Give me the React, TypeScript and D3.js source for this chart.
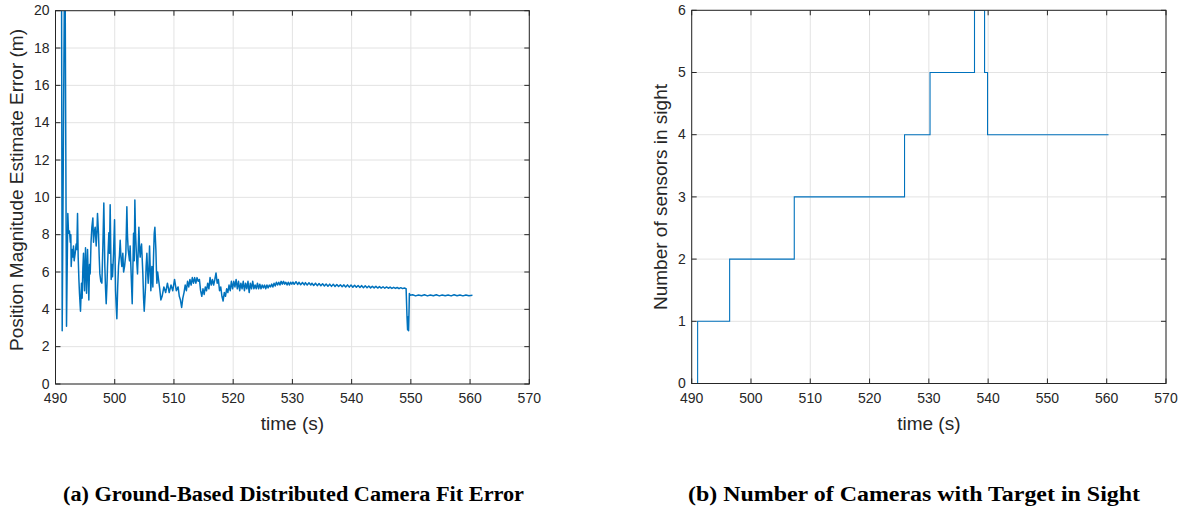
import React, { useRef, useEffect } from 'react';
import * as d3 from 'd3';

// (a) position magnitude estimate error, [time s, error m]
const errSpike: [number, number][] = [
  [491.0, 25], [491.13, 2.85], [491.58, 25], [491.86, 3.1],
];
const errTransient: [number, number][] = [
  [492.08, 9.14], [492.2, 8.07], [492.36, 8.2], [492.5, 7.6], [492.59, 8.0], [492.65, 6.3],
  [492.8, 7.2], [492.93, 6.8], [493.04, 7.4], [493.15, 6.6], [493.32, 7.0], [493.49, 7.5],
  [493.6, 7.2], [493.72, 9.14], [493.83, 6.8], [493.95, 5.6], [494.05, 4.86], [494.22, 3.9],
  [494.39, 5.4], [494.5, 4.6], [494.62, 6.2], [494.73, 7.0], [494.9, 5.0], [495.07, 7.3],
  [495.24, 4.86], [495.41, 7.2], [495.52, 5.8], [495.63, 4.5], [495.75, 6.4], [495.86, 5.9],
  [496.0, 7.6], [496.14, 8.4], [496.31, 8.9], [496.42, 7.6], [496.53, 8.07], [496.7, 8.4],
  [496.87, 7.4], [497.0, 8.2], [497.09, 9.14], [497.26, 8.07], [497.38, 6.8], [497.49, 5.9],
  [497.65, 5.5], [497.83, 5.4], [498.0, 7.4], [498.16, 9.7], [498.33, 6.3], [498.45, 5.1],
  [498.56, 4.3], [498.7, 5.4], [498.78, 6.3], [499.01, 8.1], [499.12, 7.0], [499.23, 9.6],
  [499.4, 5.6], [499.52, 6.4], [499.63, 5.75], [499.8, 7.0], [499.97, 8.8], [500.14, 5.0],
  [500.25, 4.2], [500.36, 3.5], [500.5, 5.2], [500.64, 6.3], [500.8, 6.9], [500.92, 7.7],
  [501.05, 6.8], [501.2, 6.3], [501.37, 7.0], [501.5, 6.0], [501.66, 6.3], [501.88, 7.0],
  [502.05, 9.5], [502.15, 8.0], [502.27, 7.2], [502.5, 6.6], [502.6, 7.4], [502.73, 6.3],
  [502.85, 5.2], [502.95, 4.3], [503.18, 8.07], [503.3, 6.6], [503.4, 9.86], [503.5, 8.2],
  [503.63, 7.2], [503.75, 6.4], [503.85, 5.9], [504.08, 8.4], [504.2, 7.2], [504.3, 6.8],
  [504.42, 7.3], [504.53, 7.5], [504.64, 6.7], [504.75, 5.9], [504.87, 4.6], [504.98, 3.9],
  [505.1, 4.6], [505.2, 5.2], [505.3, 6.3], [505.43, 7.0], [505.55, 6.0], [505.65, 5.4],
  [505.78, 6.2], [505.88, 7.4], [506.0, 6.1], [506.1, 5.0], [506.27, 6.3], [506.44, 5.2],
  [506.55, 6.8], [506.67, 8.07], [506.78, 8.4], [506.95, 7.2], [507.05, 6.0], [507.12, 5.4],
  [507.25, 6.0], [507.4, 5.6], [507.6, 5.1], [507.79, 4.5],
];
const errSettle: [number, number][] = [
  [508.0, 4.7], [508.3, 5.2], [508.6, 4.9], [508.9, 5.4], [509.2, 4.9], [509.5, 5.3],
  [509.8, 5.0], [510.1, 5.6], [510.4, 5.0], [510.7, 5.2], [510.9, 4.7], [511.1, 4.5],
  [511.3, 4.1], [511.5, 4.6], [511.7, 4.9], [511.9, 5.3], [512.1, 5.0], [512.3, 5.5],
  [512.5, 5.2], [512.7, 5.6], [512.9, 5.3], [513.1, 5.7], [513.3, 5.4], [513.5, 5.7],
  [513.7, 5.4], [513.9, 5.7], [514.1, 5.5], [514.3, 5.6], [514.5, 5.0], [514.7, 4.7],
  [514.9, 5.1], [515.1, 4.8], [515.3, 5.2], [515.5, 5.0], [515.7, 5.4], [515.9, 5.1],
  [516.1, 5.7], [516.3, 5.3], [516.5, 5.6], [516.7, 5.3], [516.9, 5.6], [517.1, 5.95],
  [517.3, 5.4], [517.5, 5.6], [517.7, 5.0], [517.9, 5.2], [518.1, 4.7], [518.3, 4.45],
  [518.5, 4.9], [518.7, 4.7], [518.9, 5.1], [519.1, 4.9], [519.3, 5.3], [519.5, 5.0],
  [519.7, 5.5], [519.9, 5.1], [520.1, 5.5], [520.3, 5.2], [520.5, 5.6], [520.7, 5.1],
  [520.9, 5.5], [521.1, 5.0], [521.3, 5.4], [521.5, 5.1], [521.7, 5.5], [521.9, 5.0],
  [522.1, 5.4], [522.3, 5.1], [522.5, 5.5], [522.7, 4.9], [522.9, 5.4], [523.1, 5.1],
  [523.3, 5.5], [523.5, 5.1], [523.7, 5.3], [523.9, 5.1], [524.1, 5.4], [524.3, 5.1],
  [524.5, 5.35], [524.7, 5.1], [524.9, 5.3], [525.1, 5.15], [525.3, 5.3], [525.5, 5.1],
  [525.7, 5.3], [525.9, 5.15], [526.1, 5.3], [526.3, 5.2], [526.5, 5.35], [526.7, 5.2],
  [526.9, 5.4], [527.1, 5.25], [527.3, 5.45], [527.5, 5.3], [527.7, 5.45], [527.9, 5.3],
  [528.1, 5.5], [528.3, 5.35], [528.5, 5.5], [528.7, 5.35], [528.9, 5.45], [529.1, 5.3],
  [529.3, 5.45], [529.5, 5.3], [529.7, 5.45], [529.9, 5.35],
];
const errFlat: [number, number][] = [
  [530.1, 5.46], [530.3, 5.34], [530.6, 5.48], [530.9, 5.33], [531.1, 5.45], [531.4, 5.32],
  [531.7, 5.44], [532.0, 5.31], [532.2, 5.43], [532.5, 5.3], [532.8, 5.42], [533.1, 5.3],
  [533.3, 5.4], [533.6, 5.28], [533.9, 5.4], [534.2, 5.27], [534.5, 5.38], [534.8, 5.26],
  [535.1, 5.37], [535.4, 5.25], [535.7, 5.36], [536.0, 5.24], [536.3, 5.35], [536.6, 5.23],
  [536.9, 5.34], [537.2, 5.22], [537.5, 5.33], [537.8, 5.22], [538.1, 5.32], [538.4, 5.21],
  [538.7, 5.31], [539.0, 5.2], [539.3, 5.31], [539.6, 5.19], [539.9, 5.3], [540.2, 5.18],
  [540.5, 5.29], [540.8, 5.18], [541.1, 5.28], [541.4, 5.17], [541.7, 5.27], [542.0, 5.16],
  [542.3, 5.26], [542.6, 5.16], [542.9, 5.25], [543.2, 5.15], [543.5, 5.24], [543.8, 5.15],
  [544.1, 5.23], [544.4, 5.14], [544.7, 5.22], [545.0, 5.14], [545.3, 5.21], [545.6, 5.13],
  [545.9, 5.2], [546.2, 5.13], [546.5, 5.19], [546.8, 5.12], [547.1, 5.18], [547.4, 5.12],
  [547.7, 5.17], [548.0, 5.11], [548.3, 5.16], [548.6, 5.11], [548.9, 5.14],
];
const errDip: [number, number][] = [
  [549.2, 5.1], [549.35, 3.6], [549.45, 2.9], [549.55, 3.6], [549.62, 2.85], [549.7, 4.0],
  [549.75, 4.85], [549.85, 4.75],
];
const errAfter: [number, number][] = [
  [550.3, 4.78], [550.8, 4.72], [551.3, 4.77], [551.8, 4.73], [552.3, 4.78], [552.8, 4.72],
  [553.3, 4.77], [553.8, 4.73], [554.3, 4.78], [554.8, 4.72], [555.3, 4.77], [555.8, 4.73],
  [556.3, 4.77], [556.8, 4.72], [557.3, 4.78], [557.8, 4.73], [558.3, 4.77], [558.8, 4.72],
  [559.3, 4.77], [559.8, 4.73], [560.4, 4.75],
];

// (b) number of sensors in sight (step changes)
const stepTimes = [490, 491.0, 496.4, 507.3, 525.9, 530.2, 537.7, 539.4, 539.9, 560.3];
const sensorCounts = [0, 1, 2, 3, 4, 5, 6, 5, 4, 4];

const xTicks = [490, 500, 510, 520, 530, 540, 550, 560, 570];
const errTicks = [0, 2, 4, 6, 8, 10, 12, 14, 16, 18, 20];
const countTicks = [0, 1, 2, 3, 4, 5, 6];

const LINE = '#0072bd';
const AX = '#262626';
const GRID = '#e3e3e3';
const FONT = '"Liberation Sans", Arial, Helvetica, sans-serif';

const App = () => {
  const Svg = useRef<SVGSVGElement>(null);

  useEffect(() => {
    const svg = d3.select(Svg.current);
    svg.selectAll('*').remove();

    const drawGrid = (
      g: any,
      x: d3.ScaleLinear<number, number>,
      y: d3.ScaleLinear<number, number>,
      yTicks: number[],
      clipId: string
    ) => {
      const [x0, x1] = x.range();
      const [y0, y1] = y.range(); // y0 bottom, y1 top

      g.append('clipPath')
        .attr('id', clipId)
        .append('rect')
        .attr('x', x0)
        .attr('y', y1)
        .attr('width', x1 - x0)
        .attr('height', y0 - y1);

      g.selectAll('.gx')
        .data(xTicks)
        .enter()
        .append('line')
        .attr('x1', (d) => x(d))
        .attr('x2', (d) => x(d))
        .attr('y1', y0)
        .attr('y2', y1)
        .attr('stroke', GRID)
        .attr('stroke-width', 1);
      g.selectAll('.gy')
        .data(yTicks)
        .enter()
        .append('line')
        .attr('x1', x0)
        .attr('x2', x1)
        .attr('y1', (d) => y(d))
        .attr('y2', (d) => y(d))
        .attr('stroke', GRID)
        .attr('stroke-width', 1);
    };

    const drawFrame = (
      g: any,
      x: d3.ScaleLinear<number, number>,
      y: d3.ScaleLinear<number, number>,
      yTicks: number[]
    ) => {
      const [x0, x1] = x.range();
      const [y0, y1] = y.range();
      const tl = 5;

      // inward ticks on all four sides
      xTicks.forEach((t) => {
        g.append('line').attr('x1', x(t)).attr('x2', x(t)).attr('y1', y0).attr('y2', y0 - tl).attr('stroke', AX);
        g.append('line').attr('x1', x(t)).attr('x2', x(t)).attr('y1', y1).attr('y2', y1 + tl).attr('stroke', AX);
      });
      yTicks.forEach((t) => {
        g.append('line').attr('x1', x0).attr('x2', x0 + tl).attr('y1', y(t)).attr('y2', y(t)).attr('stroke', AX);
        g.append('line').attr('x1', x1).attr('x2', x1 - tl).attr('y1', y(t)).attr('y2', y(t)).attr('stroke', AX);
      });

      g.append('rect')
        .attr('x', x0)
        .attr('y', y1)
        .attr('width', x1 - x0)
        .attr('height', y0 - y1)
        .attr('fill', 'none')
        .attr('stroke', AX)
        .attr('stroke-width', 1);

      g.selectAll('.xl')
        .data(xTicks)
        .enter()
        .append('text')
        .attr('x', (d) => x(d))
        .attr('y', y0 + 19)
        .attr('text-anchor', 'middle')
        .attr('font-size', 14)
        .attr('font-family', FONT)
        .attr('fill', AX)
        .text((d) => d);
      g.selectAll('.yl')
        .data(yTicks)
        .enter()
        .append('text')
        .attr('x', x0 - 6)
        .attr('y', (d) => y(d))
        .attr('dy', '0.34em')
        .attr('text-anchor', 'end')
        .attr('font-size', 14)
        .attr('font-family', FONT)
        .attr('fill', AX)
        .text((d) => d);

      g.append('text')
        .attr('x', (x0 + x1) / 2)
        .attr('y', y0 + 46)
        .attr('text-anchor', 'middle')
        .attr('font-size', 19)
        .attr('font-family', FONT)
        .attr('fill', AX)
        .text('time (s)');
    };

    // ---- (a) fit error ----
    const xa = d3.scaleLinear().domain([490, 570]).range([55.5, 529.3]);
    const ya = d3.scaleLinear().domain([0, 20]).range([384, 10.7]);
    const ga = svg.append('g');
    drawGrid(ga, xa, ya, errTicks, 'clipA');
    const errData = [...errSpike, ...errTransient, ...errSettle, ...errFlat, ...errDip, ...errAfter];
    const lineA = d3
      .line<[number, number]>()
      .x((d) => xa(d[0]))
      .y((d) => ya(d[1]));
    ga.append('path')
      .datum(errData)
      .attr('d', lineA)
      .attr('fill', 'none')
      .attr('stroke', LINE)
      .attr('stroke-width', 1.5)
      .attr('stroke-linejoin', 'round')
      .attr('clip-path', 'url(#clipA)');
    drawFrame(ga, xa, ya, errTicks);
    ga.append('text')
      .attr('transform', `translate(23, 190) rotate(-90)`)
      .attr('text-anchor', 'middle')
      .attr('font-size', 19)
      .attr('font-family', FONT)
      .attr('fill', AX)
      .text('Position Magnitude Estimate Error (m)');

    // ---- (b) sensors in sight ----
    const xb = d3.scaleLinear().domain([490, 570]).range([691.7, 1166]);
    const yb = d3.scaleLinear().domain([0, 6]).range([383.5, 10.3]);
    const gb = svg.append('g');
    drawGrid(gb, xb, yb, countTicks, 'clipB');
    const stepData = stepTimes.map((t, i) => [t, sensorCounts[i]] as [number, number]);
    const lineB = d3
      .line<[number, number]>()
      .x((d) => xb(d[0]))
      .y((d) => yb(d[1]))
      .curve(d3.curveStepAfter);
    gb.append('path')
      .datum(stepData)
      .attr('d', lineB)
      .attr('fill', 'none')
      .attr('stroke', LINE)
      .attr('stroke-width', 1.1)
      .attr('clip-path', 'url(#clipB)');
    drawFrame(gb, xb, yb, countTicks);
    gb.append('text')
      .attr('transform', `translate(667, 197) rotate(-90)`)
      .attr('text-anchor', 'middle')
      .attr('font-size', 19)
      .attr('font-family', FONT)
      .attr('fill', AX)
      .text('Number of sensors in sight');

    // captions
    svg.append('text')
      .attr('x', 63)
      .attr('y', 501)
      .attr('font-size', 20)
      .attr('font-weight', 'bold')
      .attr('font-family', '"Liberation Serif", "Times New Roman", serif')
      .attr('textLength', 461)
      .attr('lengthAdjust', 'spacingAndGlyphs')
      .text('(a) Ground-Based Distributed Camera Fit Error');
    svg.append('text')
      .attr('x', 688)
      .attr('y', 501)
      .attr('font-size', 20)
      .attr('font-weight', 'bold')
      .attr('font-family', '"Liberation Serif", "Times New Roman", serif')
      .attr('textLength', 452)
      .attr('lengthAdjust', 'spacingAndGlyphs')
      .text('(b) Number of Cameras with Target in Sight');
  }, []);

  return (
    <svg
      ref={Svg}
      width={1182}
      height={510}
      style={{ position: 'absolute', left: 0, top: 0, background: '#fff' }}
    />
  );
};

export default App;
